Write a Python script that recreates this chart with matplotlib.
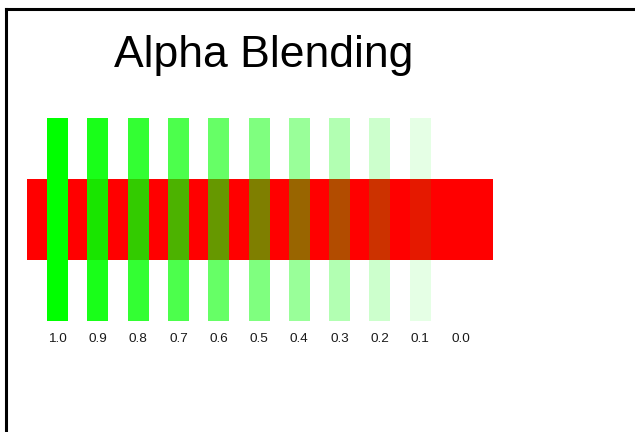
import matplotlib
matplotlib.use("Agg")
import matplotlib.pyplot as plt
from matplotlib.lines import Line2D

title = "Alpha Blending"
alphas = [1.0, 0.9, 0.8, 0.7, 0.6, 0.5, 0.4, 0.3, 0.2, 0.1, 0.0]
labels = [f"{a:.1f}" for a in alphas]

W, H = 635, 432
fig = plt.figure(figsize=(W / 100, H / 100), dpi=100)
plt.rcParams['font.family'] = ['Liberation Sans', 'DejaVu Sans']

ax = fig.add_axes([0, 0, 1, 1])
x0, step = 57.5, 40.3
ax.set_xlim((0 - x0) / step, (W - x0) / step)
ax.set_ylim(H, 0)
ax.axis('off')

# red horizontal band
ax.barh(219.5, 11.56, left=-0.757, height=81, color=(1, 0, 0), linewidth=0)

# green bars with varying alpha
idx = list(range(len(alphas)))
for i, a in zip(idx, alphas):
    ax.bar(i, 203, bottom=118, width=21 / step, color=(0, 1, 0), alpha=a, linewidth=0)
    ax.text(i, 342.5, labels[i], ha='center', va='baseline', fontsize=9.7, color='#1a1a1a')

ax.text((264 - x0) / step, 66.7, title, ha='center', va='baseline', fontsize=32, color='black')

# figure frame (clipped at right / bottom)
fig.add_artist(Line2D([5.5 / W, 1.0], [1 - 8.5 / H, 1 - 8.5 / H], transform=fig.transFigure, color='black', lw=2.2))
fig.add_artist(Line2D([5.5 / W, 5.5 / W], [1 - 8.5 / H, 0], transform=fig.transFigure, color='black', lw=2.2))

fig.savefig("out.png", dpi=100)
